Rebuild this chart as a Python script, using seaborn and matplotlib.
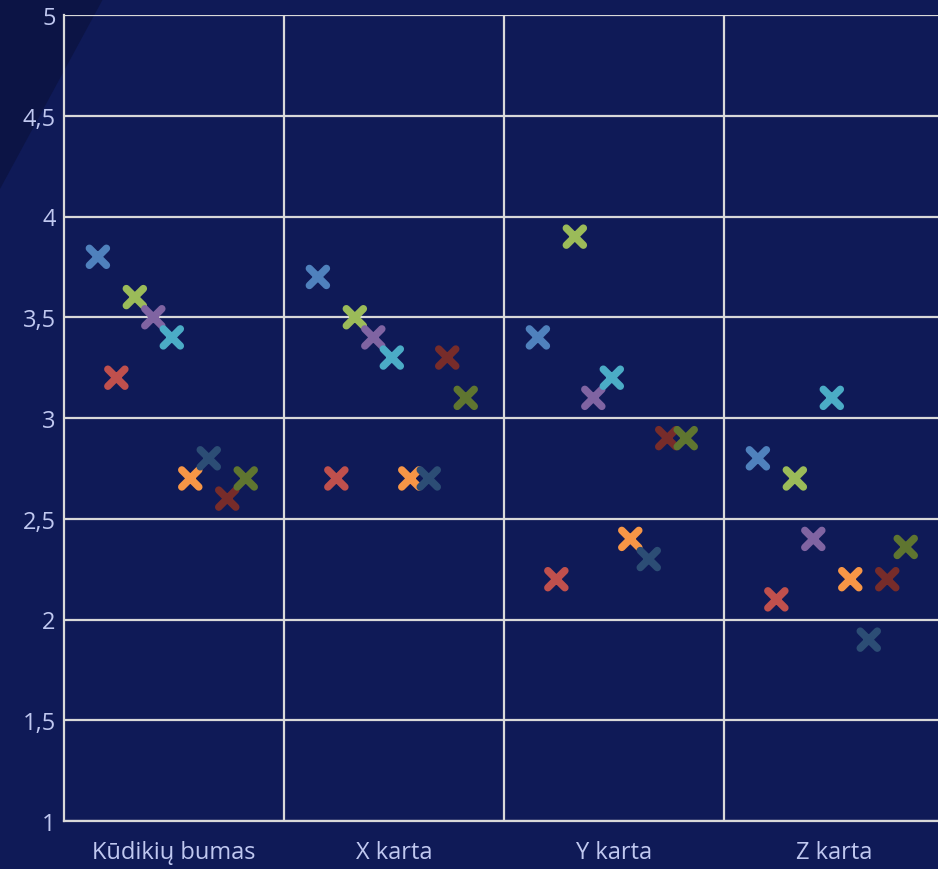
import numpy as np
import pandas as pd
import matplotlib
matplotlib.use("Agg")
import matplotlib.pyplot as plt
from matplotlib.patches import Polygon
from matplotlib.ticker import FuncFormatter, FixedLocator
import seaborn as sns

# ======== DATA ========
categories = ["Kūdikių bumas", "X karta", "Y karta", "Z karta"]
series = ["s1", "s2", "s3", "s4", "s5", "s6", "s7", "s8", "s9"]
colors = ["#4F81BD", "#C0504D", "#9BBB59", "#8064A2", "#4BACC6",
          "#F79646", "#2C4D75", "#772C2A", "#5F7530"]

boomers = [3.8, 3.2, 3.6, 3.5, 3.4, 2.7, 2.8, 2.6, 2.7]
gen_x = [3.7, 2.7, 3.5, 3.4, 3.3, 2.7, 2.7, 3.3, 3.1]
gen_y = [3.4, 2.2, 3.9, 3.1, 3.2, 2.4, 2.3, 2.9, 2.9]
gen_z = [2.8, 2.1, 2.7, 2.4, 3.1, 2.2, 1.9, 2.2, 2.36]

values = [boomers, gen_x, gen_y, gen_z]

# long table, x = category slot + small offset per series (like Excel's grouped scatter)
STEP = 0.084
rows = []
for ci, vals in enumerate(values):
    for si, v in enumerate(vals):
        rows.append({"x": ci + (si - 4) * STEP - 0.01, "series": series[si], "value": v})
df = pd.DataFrame(rows)

# ======== STYLE ========
BG = "#0F1A57"
TEXT = "#C0C8F0"
GRID = "#D9D9D9"

sns.set_style("white")
plt.rcParams["font.family"] = ["Open Sans", "DejaVu Sans"]

fig = plt.figure(figsize=(9.38, 8.7), dpi=100, facecolor=BG)
fig.patches.append(Polygon([(0, 1), (103 / 938, 1), (0, 1 - 190 / 870)],
                           closed=True, transform=fig.transFigure,
                           facecolor="#0C1445", edgecolor="none", zorder=0))

ax = fig.add_axes([64 / 938, 48 / 870, 880 / 938, 806 / 870])
ax.set_zorder(2)
ax.patch.set_alpha(0)

sns.scatterplot(data=df, x="x", y="value", hue="series", hue_order=series,
                palette=colors, marker="x", s=150, linewidth=5.4,
                capstyle="round", legend=False, ax=ax, zorder=3)

ax.set_ylim(1, 5)
ax.set_xlim(-0.5, 3.5)
ax.set_xticks(range(len(categories)))
ax.set_xticklabels(categories)
ax.set_yticks(np.arange(1, 5.01, 0.5))
ax.yaxis.set_major_formatter(FuncFormatter(
    lambda v, p: (f"{v:g}").replace(".", ",")))
ax.xaxis.set_minor_locator(FixedLocator([0.5, 1.5, 2.5]))

ax.grid(True, axis="y", which="major", color=GRID, linewidth=1.6)
ax.grid(True, axis="x", which="minor", color=GRID, linewidth=1.6)
ax.grid(False, axis="x", which="major")
ax.set_axisbelow(True)
for side in ["top", "right"]:
    ax.spines[side].set_visible(False)
for side in ["left", "bottom"]:
    ax.spines[side].set_color(GRID)
    ax.spines[side].set_linewidth(1.6)

ax.tick_params(axis="both", which="both", length=0, colors=TEXT, labelsize=17)
ax.tick_params(axis="y", pad=6)
ax.tick_params(axis="x", pad=14)
ax.set_xlabel("")
ax.set_ylabel("")

fig.savefig("out.png", dpi=100, facecolor=BG)
